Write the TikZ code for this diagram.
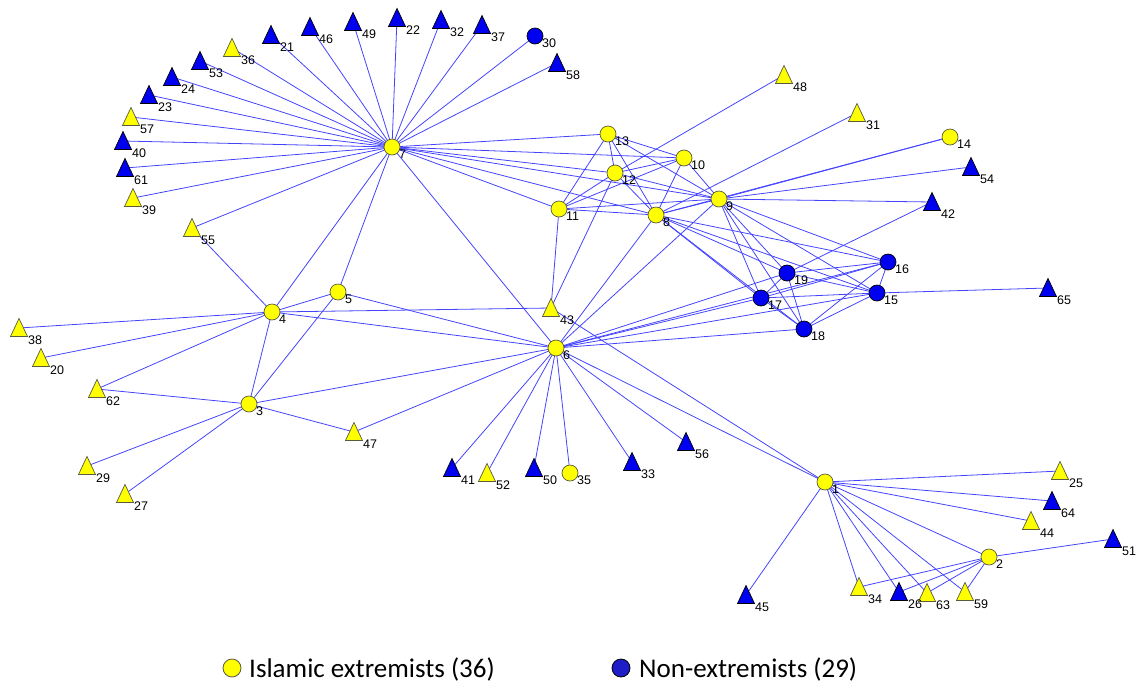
\documentclass[tikz,border=0pt]{standalone}
\usepackage{fontspec}
\setmainfont{Liberation Sans}
\newfontfamily\legendfont{Carlito}
\definecolor{edgeblue}{RGB}{68,68,255}
\definecolor{nodeyellow}{RGB}{255,255,0}
\definecolor{nodeblue}{RGB}{0,0,240}
\definecolor{legendblue}{RGB}{30,30,200}
\definecolor{yellowrim}{RGB}{90,90,60}
\begin{document}
\begin{tikzpicture}[x=1pt,y=-1pt,
  edge/.style={draw=edgeblue, line width=0.8pt},
  lbl/.style={anchor=north west, inner sep=0pt, font=\fontsize{12.5}{12.5}\selectfont},
  yshape/.style={fill=nodeyellow, draw=yellowrim, line width=0.7pt},
  bshape/.style={fill=nodeblue, draw=black, line width=0.7pt},
  ycirc/.pic={\filldraw[yshape] (0,0) circle[radius=8]; \node[lbl] (-t) at (7,2.5) {#1};},
  bcirc/.pic={\filldraw[bshape] (0,0) circle[radius=8]; \node[lbl] (-t) at (7,2.5) {#1};},
  ytri/.pic={\filldraw[yshape] (-8.5,8.5) -- (8.5,8.5) -- (0,-9.5) -- cycle; \node[lbl] (-t) at (9,8) {#1};},
  btri/.pic={\filldraw[bshape] (-8.5,8.5) -- (8.5,8.5) -- (0,-9.5) -- cycle; \node[lbl] (-t) at (9,8) {#1};},
  keytext/.style={anchor=west, inner sep=0pt, font=\legendfont\fontsize{27}{27}\selectfont}
]
\useasboundingbox (0,0) rectangle (1136,686);

% node positions
\coordinate (n1) at (825,482);   \coordinate (n2) at (989,557);
\coordinate (n3) at (249,404);   \coordinate (n4) at (272,312);
\coordinate (n5) at (338,292);   \coordinate (n6) at (556,348);
\coordinate (n7) at (392,147);   \coordinate (n8) at (656,215);
\coordinate (n9) at (719,199);   \coordinate (n10) at (684,158);
\coordinate (n11) at (559,209);  \coordinate (n12) at (615,173);
\coordinate (n13) at (608,134);  \coordinate (n14) at (950,137);
\coordinate (n15) at (877,293);  \coordinate (n16) at (888,262);
\coordinate (n17) at (761,298);  \coordinate (n18) at (804,329);
\coordinate (n19) at (787,273);  \coordinate (n20) at (41,358);
\coordinate (n21) at (271,35);   \coordinate (n22) at (397,18);
\coordinate (n23) at (149,95);   \coordinate (n24) at (172,77);
\coordinate (n25) at (1060,471); \coordinate (n26) at (899,592);
\coordinate (n27) at (125,494);  \coordinate (n29) at (87,466);
\coordinate (n30) at (535,36);   \coordinate (n31) at (857,113);
\coordinate (n32) at (441,20);   \coordinate (n33) at (632,462);
\coordinate (n34) at (859,587);  \coordinate (n35) at (570,473);
\coordinate (n36) at (232,48);   \coordinate (n37) at (482,25);
\coordinate (n38) at (19,328);   \coordinate (n39) at (133,198);
\coordinate (n40) at (123,141);  \coordinate (n41) at (452,468);
\coordinate (n42) at (932,202);  \coordinate (n43) at (551,308);
\coordinate (n44) at (1031,521); \coordinate (n45) at (746,595);
\coordinate (n46) at (310,27);   \coordinate (n47) at (354,432);
\coordinate (n48) at (784,75);   \coordinate (n49) at (353,22);
\coordinate (n50) at (534,468);  \coordinate (n51) at (1113,539);
\coordinate (n52) at (487,473);  \coordinate (n53) at (200,61);
\coordinate (n54) at (971,167);  \coordinate (n55) at (192,228);
\coordinate (n56) at (686,442);  \coordinate (n57) at (131,117);
\coordinate (n58) at (557,63);   \coordinate (n59) at (965,592);
\coordinate (n61) at (125,168);  \coordinate (n62) at (97,389);
\coordinate (n63) at (927,593);  \coordinate (n64) at (1052,501);
\coordinate (n65) at (1048,288);

% ties
\foreach \a/\b in {
  7/36,7/21,7/46,7/49,7/22,7/32,7/37,7/30,7/58,7/53,7/24,7/23,7/57,7/40,7/61,7/39,7/55,
  7/4,7/5,7/6,7/13,7/10,7/12,7/11,7/8,7/9,
  55/4,4/38,4/20,4/62,4/3,4/5,4/43,4/6,5/3,5/6,
  3/62,3/29,3/27,3/47,3/6,47/6,
  6/41,6/52,6/50,6/35,6/33,6/56,6/1,6/8,6/9,6/17,6/19,6/18,6/15,6/16,
  43/1,43/11,43/12,
  13/12,13/11,13/8,13/9,13/10,12/10,12/11,12/8,12/9,12/48,
  11/10,11/8,11/9,10/8,10/9,
  8/9,8/31,8/14,8/17,8/19,8/15,8/16,8/18,
  9/14,9/54,9/42,9/17,9/18,9/15,9/16,9/19,
  19/17,19/15,19/16,19/18,19/42,17/15,17/16,17/18,16/15,16/18,15/18,15/65,
  1/25,1/64,1/44,1/2,1/34,1/26,1/63,1/59,1/45,
  2/51,2/34,2/26,2/63,2/59}
  \draw[edge] (n\a) -- (n\b);

% actors
\foreach \n in {1,2,3,4,5,6,7,8,9,10,11,12,13,14,35}
  \pic (p\n) at (n\n) {ycirc=\n};
\foreach \n in {15,16,17,18,19,30}
  \pic (p\n) at (n\n) {bcirc=\n};
\foreach \n in {20,25,27,29,31,34,36,38,39,43,44,47,48,52,55,57,59,62,63}
  \pic (p\n) at (n\n) {ytri=\n};
\foreach \n in {21,22,23,24,26,32,33,37,40,41,42,45,46,49,50,51,53,54,56,58,61,64,65}
  \pic (p\n) at (n\n) {btri=\n};

% legend
\node[circle, fill=nodeyellow, draw=yellowrim, line width=0.8pt, minimum size=18pt, inner sep=0pt] (ky) at (232,668) {};
\node[keytext] (kyt) at (249,669) {Islamic extremists (36)};
\node[circle, fill=legendblue, draw=black, line width=0.8pt, minimum size=18pt, inner sep=0pt] (kb) at (621,668) {};
\node[keytext] (kbt) at (639,669) {Non-extremists (29)};
\end{tikzpicture}
\end{document}
